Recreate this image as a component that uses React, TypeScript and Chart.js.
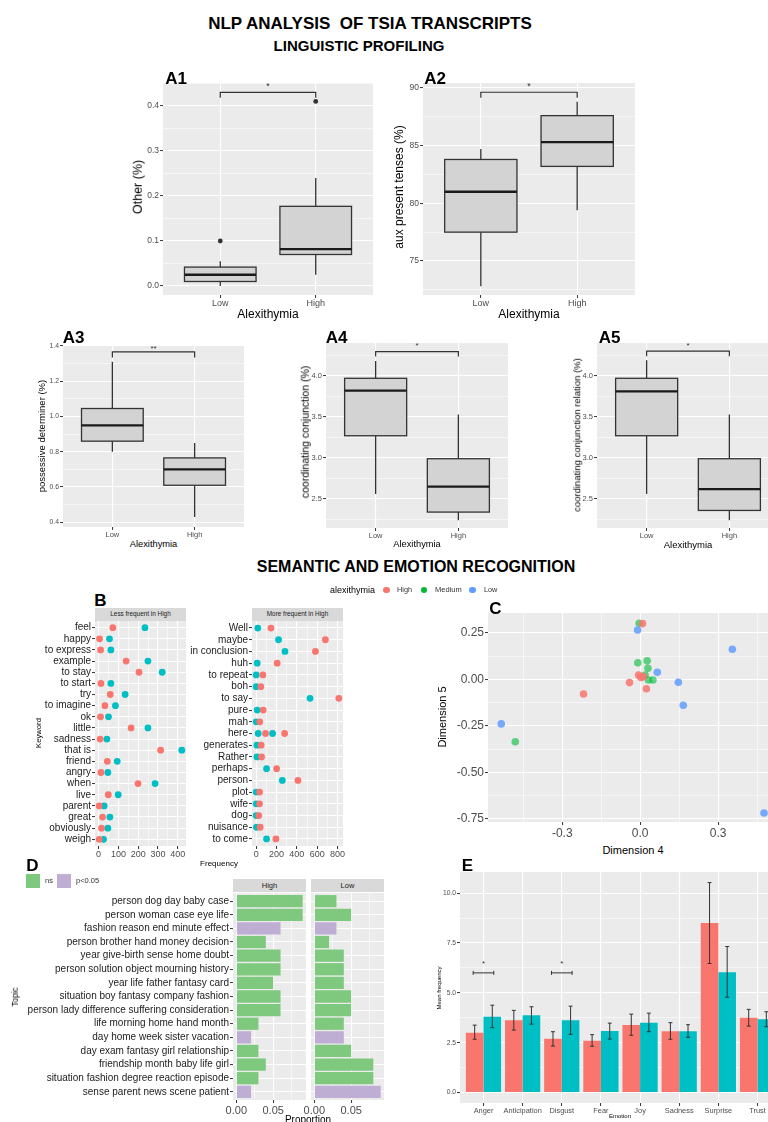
import React, { useEffect, useRef } from 'react';
import { Chart, registerables } from 'chart.js';

Chart.register(...registerables);

const FONT = "'Liberation Sans', Arial, Helvetica, sans-serif";
const RED = '#F8766D';
const TEAL = '#00BFC4';
const NS_GREEN = '#7FC97F';
const SIG_PURPLE = '#BEAED4';
const PANEL_BG = '#EBEBEB';

// ---------- A: linguistic profiling (whisker low, Q1, median, Q3, whisker high)
const GROUPS = ['Low', 'High'];
const A1_LOW = [0.0, 0.01, 0.025, 0.042, 0.055];
const A1_HIGH = [0.025, 0.07, 0.082, 0.177, 0.24];
const A1_OUT_LOW = [0.1];
const A1_OUT_HIGH = [0.41];
const A2_LOW = [72.8, 77.5, 81.0, 83.8, 84.7];
const A2_HIGH = [79.4, 83.2, 85.3, 87.6, 88.8];
const A3_LOW = [0.8, 0.86, 0.95, 1.045, 1.31];
const A3_HIGH = [0.43, 0.61, 0.7, 0.765, 0.85];
const A4_LOW = [2.56, 3.27, 3.82, 3.97, 4.18];
const A4_HIGH = [2.24, 2.34, 2.65, 2.99, 3.53];
const A5_LOW = [2.56, 3.27, 3.81, 3.97, 4.19];
const A5_HIGH = [2.24, 2.36, 2.62, 2.99, 3.53];
const A_SIG = ['*', '*', '**', '*', '*'];

// ---------- B: keywords
const B_LESS_KEYS = ['feel', 'happy', 'to express', 'example', 'to stay', 'to start', 'try', 'to imagine', 'ok', 'little', 'sadness', 'that is', 'friend', 'angry', 'when', 'live', 'parent', 'great', 'obviously', 'weigh'];
const B_LESS_HIGH = [72, 5, 10, 139, 204, 12, 59, 32, 10, 164, 8, 313, 44, 12, 199, 49, 3, 20, 15, 3];
const B_LESS_LOW = [234, 55, 62, 249, 321, 62, 134, 85, 50, 249, 42, 420, 94, 47, 285, 99, 28, 57, 47, 25];
const B_MORE_KEYS = ['Well', 'maybe', 'in conclusion', 'huh', 'to repeat', 'boh', 'to say', 'pure', 'mah', 'here', 'here', 'generates', 'Rather', 'perhaps', 'person', 'plot', 'wife', 'dog', 'nuisance', 'to come'];
const B_MORE_HIGH = [145, 681, 583, 207, 66, 46, 813, 69, 36, 92, 280, 49, 53, 201, 411, 33, 33, 26, 39, 194];
const B_MORE_LOW = [16, 220, 283, 10, 0, 0, 530, 10, 0, 20, 161, 7, 7, 102, 257, 0, 0, 0, 3, 102];

// ---------- C: dimensions
const C_HIGH_X = [0.009, -0.006, 0.003, 0.012, -0.041, 0.024, -0.218];
const C_HIGH_Y = [0.3, 0.024, 0.01, 0.015, -0.017, -0.05, -0.078];
const C_MED_X = [-0.004, -0.009, 0.027, 0.03, 0.019, 0.032, 0.049, -0.481];
const C_MED_Y = [0.302, 0.09, 0.1, 0.06, 0.024, -0.003, -0.003, -0.335];
const C_LOW_X = [-0.01, 0.066, 0.147, 0.166, 0.355, -0.535, 0.477];
const C_LOW_Y = [0.266, 0.039, -0.015, -0.139, 0.162, -0.239, -0.718];

// ---------- D: topics
const D_TOPICS = [
  'person dog day baby case',
  'person woman case eye life',
  'fashion reason end minute effect',
  'person brother hand money decision',
  'year give-birth sense home doubt',
  'person solution object mourning history',
  'year life father fantasy card',
  'situation boy fantasy company fashion',
  'person lady difference suffering consideration',
  'life morning home hand month',
  'day home week sister vacation',
  'day exam fantasy girl relationship',
  'friendship month baby life girl',
  'situation fashion degree reaction episode',
  'sense parent news scene patient',
];
const D_HIGH = [0.09, 0.09, 0.06, 0.04, 0.06, 0.06, 0.05, 0.06, 0.06, 0.03, 0.02, 0.03, 0.04, 0.03, 0.02];
const D_LOW = [0.03, 0.05, 0.03, 0.02, 0.04, 0.04, 0.04, 0.05, 0.05, 0.04, 0.04, 0.05, 0.08, 0.08, 0.09];
const D_SIG = ['ns', 'ns', 'p<0.05', 'ns', 'ns', 'ns', 'ns', 'ns', 'ns', 'ns', 'p<0.05', 'ns', 'ns', 'ns', 'p<0.05'];

// ---------- E: emotions
const E_EMOTIONS = ['Anger', 'Anticipation', 'Disgust', 'Fear', 'Joy', 'Sadness', 'Surprise', 'Trust'];
const E_HIGH = [3.0, 3.62, 2.7, 2.6, 3.38, 3.07, 8.5, 3.75];
const E_HIGH_LO = [2.67, 3.13, 2.33, 2.32, 2.87, 2.67, 6.47, 3.33];
const E_HIGH_HI = [3.38, 4.12, 3.05, 2.9, 3.93, 3.5, 10.53, 4.17];
const E_LOW = [3.8, 3.87, 3.62, 3.08, 3.5, 3.07, 6.03, 3.67];
const E_LOW_LO = [3.25, 3.43, 2.92, 2.68, 3.05, 2.77, 4.78, 3.3];
const E_LOW_HI = [4.38, 4.3, 4.33, 3.48, 3.98, 3.4, 7.32, 4.05];
const E_SIG = ['Anger', 'Disgust'];

type M = { l: number; r: number; t: number; b: number };
type R = { x: number; y: number; w: number; h: number };

const near = (a: number, b: number) => Math.abs(a - b) < 1e-7;

function linScale(o: {
  pos: 'left' | 'bottom'; min: number; max: number; majors: number[]; minors?: number[];
  label?: (v: number) => string; size: number; thick: number; reverse?: boolean; pad?: number;
  color?: string; hide?: boolean; tickLen?: number;
}) {
  const majors = o.majors;
  const minors = o.minors || [];
  const isMajor = (v: any) => typeof v === 'number' && majors.some((m) => near(m, v));
  return {
    type: 'linear',
    position: o.pos,
    min: o.min,
    max: o.max,
    reverse: !!o.reverse,
    offset: false,
    afterBuildTicks: (s: any) => {
      s.ticks = [...majors, ...minors].sort((a, b) => a - b).map((v) => ({ value: v }));
    },
    afterFit: (s: any) => {
      if (o.pos === 'bottom') s.height = o.thick; else s.width = o.thick;
      s.paddingLeft = 0; s.paddingRight = 0; s.paddingTop = 0; s.paddingBottom = 0;
    },
    ticks: {
      autoSkip: false, maxRotation: 0, minRotation: 0, padding: o.pad ?? 1,
      color: o.color || '#4D4D4D',
      font: { family: FONT, size: o.size },
      callback: (v: any) => (o.hide || !isMajor(v) ? '' : o.label ? o.label(v) : String(v)),
    },
    grid: {
      offset: false,
      color: '#FFFFFF',
      lineWidth: (c: any) => (isMajor(c?.tick?.value) ? 1.1 : 0.55),
      tickColor: (c: any) => (!o.hide && isMajor(c?.tick?.value) ? '#333333' : 'rgba(0,0,0,0)'),
      tickLength: o.tickLen ?? 3,
      tickWidth: 1,
      drawTicks: true,
    },
    border: { display: false },
  };
}

function baseOptions(m: M, scales: any, extra: any = {}) {
  return {
    responsive: false,
    maintainAspectRatio: false,
    animation: false,
    devicePixelRatio: 1,
    events: [],
    layout: { autoPadding: false, padding: { left: 0, right: m.r, top: m.t, bottom: 0 } },
    plugins: { legend: { display: false }, tooltip: { enabled: false }, title: { display: false } },
    scales,
    ...extra,
  };
}

const bgPlugin = {
  id: 'panelBg',
  beforeDraw(chart: any) {
    const { ctx, chartArea } = chart;
    if (!chartArea) return;
    ctx.save();
    ctx.fillStyle = PANEL_BG;
    ctx.fillRect(chartArea.left, chartArea.top, chartArea.right - chartArea.left, chartArea.bottom - chartArea.top);
    ctx.restore();
  },
};

function makeBoxPlugin(stats: number[][], br: { y: number; tick: number; star: number; label: string; size: number }) {
  return {
    id: 'boxes',
    beforeDatasetsDraw(chart: any) {
      const { ctx } = chart;
      const xs = chart.scales.x;
      const ys = chart.scales.y;
      const py = (v: number) => ys.getPixelForValue(v);
      ctx.save();
      stats.forEach(([lo, q1, med, q3, hi], i) => {
        const xc = xs.getPixelForValue(i);
        const hw = Math.abs(xs.getPixelForValue(i + 0.375) - xc);
        ctx.strokeStyle = '#333333';
        ctx.lineWidth = 1.3;
        ctx.beginPath();
        ctx.moveTo(xc, py(hi)); ctx.lineTo(xc, py(q3));
        ctx.moveTo(xc, py(q1)); ctx.lineTo(xc, py(lo));
        ctx.stroke();
        ctx.fillStyle = '#D3D3D3';
        ctx.fillRect(xc - hw, py(q3), 2 * hw, py(q1) - py(q3));
        ctx.strokeRect(xc - hw, py(q3), 2 * hw, py(q1) - py(q3));
        ctx.strokeStyle = '#1A1A1A';
        ctx.lineWidth = 2.3;
        ctx.beginPath();
        ctx.moveTo(xc - hw, py(med)); ctx.lineTo(xc + hw, py(med));
        ctx.stroke();
      });
      const x0 = xs.getPixelForValue(0);
      const x1 = xs.getPixelForValue(1);
      ctx.strokeStyle = '#333333';
      ctx.lineWidth = 1.2;
      ctx.beginPath();
      ctx.moveTo(x0, py(br.tick)); ctx.lineTo(x0, py(br.y)); ctx.lineTo(x1, py(br.y)); ctx.lineTo(x1, py(br.tick));
      ctx.stroke();
      ctx.fillStyle = '#333333';
      ctx.font = `${br.size}px ${FONT}`;
      ctx.textAlign = 'center';
      ctx.textBaseline = 'middle';
      ctx.fillText(br.label, (x0 + x1) / 2, py(br.star) + br.size * 0.25);
      ctx.restore();
    },
  };
}

function boxConfig(o: {
  m: M; low: number[]; high: number[]; outLow?: number[]; outHigh?: number[];
  yMin: number; yMax: number; majors: number[]; minors: number[]; fmt: (v: number) => string;
  ySize: number; xSize: number; br: { y: number; tick: number; star: number; label: string; size: number };
}) {
  const outs = [
    ...(o.outLow || []).map((v) => ({ x: 0, y: v })),
    ...(o.outHigh || []).map((v) => ({ x: 1, y: v })),
  ];
  return {
    type: 'scatter',
    data: { datasets: [{ data: outs, backgroundColor: '#333333', pointRadius: 2.4, borderWidth: 0 }] },
    options: baseOptions(o.m, {
      x: linScale({ pos: 'bottom', min: -0.6, max: 1.6, majors: [0, 1], size: o.xSize, thick: o.m.b, label: (v) => GROUPS[Math.round(v)], pad: 0 }),
      y: linScale({ pos: 'left', min: o.yMin, max: o.yMax, majors: o.majors, minors: o.minors, size: o.ySize, thick: o.m.l, label: o.fmt }),
    }),
    plugins: [bgPlugin, makeBoxPlugin([o.low, o.high], o.br)],
  };
}

function bConfig(m: M, keys: string[], high: number[], low: number[], xr: [number, number], majors: number[], minors: number[]) {
  const rows = keys.filter((k, i) => keys.indexOf(k) === i);
  const idx = (k: string) => rows.indexOf(k);
  return {
    type: 'scatter',
    data: {
      datasets: [
        { data: keys.map((k, i) => ({ x: high[i], y: idx(k) })), backgroundColor: RED, pointRadius: 3.4, borderWidth: 0 },
        { data: keys.map((k, i) => ({ x: low[i], y: idx(k) })), backgroundColor: TEAL, pointRadius: 3.4, borderWidth: 0 },
      ],
    },
    options: baseOptions(m, {
      x: linScale({ pos: 'bottom', min: xr[0], max: xr[1], majors, minors, size: 9, thick: m.b, pad: 0 }),
      y: linScale({ pos: 'left', min: -0.6, max: rows.length - 0.4, majors: rows.map((_, i) => i), size: 10, thick: m.l, reverse: true, color: '#222222', label: (v) => rows[Math.round(v)] }),
    }),
    plugins: [bgPlugin],
  };
}

function cConfig(m: M) {
  const pts = (xs: number[], ys: number[]) => xs.map((x, i) => ({ x, y: ys[i] }));
  return {
    type: 'scatter',
    data: {
      datasets: [
        { data: pts(C_HIGH_X, C_HIGH_Y), backgroundColor: 'rgba(248,118,109,0.85)', pointRadius: 3.8, borderWidth: 0 },
        { data: pts(C_LOW_X, C_LOW_Y), backgroundColor: 'rgba(97,156,255,0.85)', pointRadius: 3.8, borderWidth: 0 },
        { data: pts(C_MED_X, C_MED_Y), backgroundColor: 'rgba(0,186,56,0.6)', pointRadius: 3.8, borderWidth: 0 },
      ],
    },
    options: baseOptions(m, {
      x: linScale({ pos: 'bottom', min: -0.586, max: 0.527, majors: [-0.3, 0, 0.3], minors: [-0.45, -0.15, 0.15, 0.45], size: 12, thick: m.b, label: (v) => v.toFixed(1), pad: 1 }),
      y: linScale({ pos: 'left', min: -0.766, max: 0.357, majors: [-0.75, -0.5, -0.25, 0, 0.25], minors: [-0.625, -0.375, -0.125, 0.125], size: 12, thick: m.l, label: (v) => v.toFixed(2) }),
    }),
    plugins: [bgPlugin],
  };
}

function dConfig(m: M, values: number[], showLabels: boolean) {
  return {
    type: 'bar',
    data: {
      datasets: [{
        data: values.map((v, i) => ({ x: v, y: i })),
        backgroundColor: D_SIG.map((s) => (s === 'ns' ? NS_GREEN : SIG_PURPLE)),
        borderWidth: 0,
        categoryPercentage: 0.9,
        barPercentage: 1.0,
      }],
    },
    options: baseOptions(m, {
      x: linScale({ pos: 'bottom', min: -0.0045, max: 0.0945, majors: [0, 0.05], minors: [0.025, 0.075], size: 11, thick: m.b, label: (v) => v.toFixed(2), pad: 1 }),
      y: linScale({ pos: 'left', min: -0.6, max: D_TOPICS.length - 0.4, majors: D_TOPICS.map((_, i) => i), size: 10, thick: m.l, reverse: true, color: '#222222', hide: !showLabels, label: (v) => D_TOPICS[Math.round(v)] }),
    }, { indexAxis: 'y' }),
    plugins: [bgPlugin],
  };
}

const errPlugin = {
  id: 'errbars',
  afterDatasetsDraw(chart: any) {
    const { ctx } = chart;
    const xs = chart.scales.x;
    const ys = chart.scales.y;
    const cap = Math.abs(xs.getPixelForValue(0.05) - xs.getPixelForValue(0));
    ctx.save();
    ctx.strokeStyle = '#333333';
    ctx.lineWidth = 1;
    [[E_HIGH_LO, E_HIGH_HI], [E_LOW_LO, E_LOW_HI]].forEach(([lo, hi], di) => {
      const meta = chart.getDatasetMeta(di);
      meta.data.forEach((bar: any, j: number) => {
        const x = bar.x;
        const y0 = ys.getPixelForValue(lo[j]);
        const y1 = ys.getPixelForValue(hi[j]);
        ctx.beginPath();
        ctx.moveTo(x, y0); ctx.lineTo(x, y1);
        ctx.moveTo(x - cap, y0); ctx.lineTo(x + cap, y0);
        ctx.moveTo(x - cap, y1); ctx.lineTo(x + cap, y1);
        ctx.stroke();
      });
    });
    const m0 = chart.getDatasetMeta(0);
    const m1 = chart.getDatasetMeta(1);
    E_SIG.forEach((name) => {
      const j = E_EMOTIONS.indexOf(name);
      const xa = m0.data[j].x - 1.5;
      const xb = m1.data[j].x + 1.5;
      const y = ys.getPixelForValue(6.0);
      ctx.beginPath();
      ctx.moveTo(xa, y); ctx.lineTo(xb, y);
      ctx.moveTo(xa, y - 2); ctx.lineTo(xa, y + 2);
      ctx.moveTo(xb, y - 2); ctx.lineTo(xb, y + 2);
      ctx.stroke();
      ctx.fillStyle = '#333333';
      ctx.font = `8px ${FONT}`;
      ctx.textAlign = 'center';
      ctx.textBaseline = 'middle';
      ctx.fillText('*', (xa + xb) / 2, ys.getPixelForValue(6.55) + 2);
    });
    ctx.restore();
  },
};

function eConfig(m: M) {
  return {
    type: 'bar',
    data: {
      datasets: [
        { data: E_HIGH.map((v, i) => ({ x: i, y: v })), backgroundColor: RED, borderWidth: 0, categoryPercentage: 0.9, barPercentage: 1.0 },
        { data: E_LOW.map((v, i) => ({ x: i, y: v })), backgroundColor: TEAL, borderWidth: 0, categoryPercentage: 0.9, barPercentage: 1.0 },
      ],
    },
    options: baseOptions(m, {
      x: linScale({ pos: 'bottom', min: -0.6, max: E_EMOTIONS.length - 0.4, majors: E_EMOTIONS.map((_, i) => i), size: 7.4, thick: m.b, label: (v) => E_EMOTIONS[Math.round(v)], pad: 1 }),
      y: linScale({ pos: 'left', min: -0.527, max: 11.06, majors: [0, 2.5, 5, 7.5, 10], minors: [1.25, 3.75, 6.25, 8.75], size: 6.7, thick: m.l, label: (v) => v.toFixed(1) }),
    }),
    plugins: [bgPlugin, errPlugin],
  };
}

function ChartCanvas({ plot, m, make }: { plot: R; m: M; make: () => any }) {
  const ref = useRef<HTMLCanvasElement | null>(null);
  const w = plot.w + m.l + m.r;
  const h = plot.h + m.t + m.b;
  useEffect(() => {
    if (!ref.current) return;
    const chart = new Chart(ref.current, make());
    return () => chart.destroy();
  }, []);
  return (
    <canvas ref={ref} width={w} height={h}
      style={{ position: 'absolute', left: plot.x - m.l, top: plot.y - m.t, width: w, height: h, display: 'block' }} />
  );
}

const T = ({ x, y, s, size, bold, rot, color, left }: any) => (
  <div style={{
    position: 'absolute', left: x, top: y,
    transform: `translate(${left ? '0' : '-50%'},-50%)${rot ? ' rotate(-90deg)' : ''}`,
    fontSize: size, fontWeight: bold ? 700 : 400, color: color || '#000', whiteSpace: 'pre',
    lineHeight: 1, fontFamily: FONT,
  }}>{s}</div>
);

const Strip = ({ x, y, w, h, s, size }: any) => (
  <div style={{
    position: 'absolute', left: x, top: y, width: w, height: h, background: '#D9D9D9',
    display: 'flex', alignItems: 'center', justifyContent: 'center', fontSize: size,
    color: '#1A1A1A', fontFamily: FONT, whiteSpace: 'nowrap', lineHeight: 1,
  }}>{s}</div>
);

const Dot = ({ x, y, r, c }: any) => (
  <div style={{ position: 'absolute', left: x - r, top: y - r, width: 2 * r, height: 2 * r, borderRadius: '50%', background: c }} />
);

const Sq = ({ x, y, w, c }: any) => (
  <div style={{ position: 'absolute', left: x, top: y, width: w, height: w, background: c }} />
);

export default function App() {
  const mA12: M = { l: 28, r: 3, t: 2, b: 14 };
  const mA345: M = { l: 22, r: 3, t: 2, b: 12 };
  const aMin = [0.4, 0.6, 0.8, 1.0, 1.2, 1.4];
  return (
    <div style={{ position: 'absolute', left: 0, top: 0, width: 768, height: 1122, overflow: 'hidden', background: '#FFFFFF', fontFamily: FONT }}>
      {/* A1 */}
      <ChartCanvas plot={{ x: 163, y: 83, w: 210, h: 212 }} m={mA12} make={() => boxConfig({
        m: mA12, low: A1_LOW, high: A1_HIGH, outLow: A1_OUT_LOW, outHigh: A1_OUT_HIGH,
        yMin: -0.02, yMax: 0.451, majors: [0, 0.1, 0.2, 0.3, 0.4], minors: [0.05, 0.15, 0.25, 0.35, 0.45],
        fmt: (v) => v.toFixed(1), ySize: 8.5, xSize: 9, br: { y: 0.43, tick: 0.418, star: 0.449, label: A_SIG[0], size: 9 },
      })} />
      {/* A2 */}
      <ChartCanvas plot={{ x: 423, y: 83, w: 212, h: 212 }} m={mA12} make={() => boxConfig({
        m: mA12, low: A2_LOW, high: A2_HIGH,
        yMin: 72.05, yMax: 90.43, majors: [75, 80, 85, 90], minors: [72.5, 77.5, 82.5, 87.5],
        fmt: (v) => String(v), ySize: 8.5, xSize: 9, br: { y: 89.63, tick: 89.16, star: 90.35, label: A_SIG[1], size: 9 },
      })} />
      {/* A3 */}
      <ChartCanvas plot={{ x: 63, y: 345, w: 181, h: 182 }} m={mA345} make={() => boxConfig({
        m: mA345, low: A3_LOW, high: A3_HIGH,
        yMin: 0.3735, yMax: 1.405, majors: aMin, minors: [0.5, 0.7, 0.9, 1.1, 1.3],
        fmt: (v) => v.toFixed(1), ySize: 6.8, xSize: 7.5, br: { y: 1.366, tick: 1.334, star: 1.395, label: A_SIG[2], size: 8 },
      })} />
      {/* A4 */}
      <ChartCanvas plot={{ x: 326, y: 343, w: 182, h: 185 }} m={mA345} make={() => boxConfig({
        m: mA345, low: A4_LOW, high: A4_HIGH,
        yMin: 2.146, yMax: 4.4, majors: [2.5, 3.0, 3.5, 4.0], minors: [2.25, 2.75, 3.25, 3.75, 4.25],
        fmt: (v) => v.toFixed(1), ySize: 7.5, xSize: 7.5, br: { y: 4.296, tick: 4.235, star: 4.385, label: A_SIG[3], size: 8 },
      })} />
      {/* A5 */}
      <ChartCanvas plot={{ x: 597, y: 343, w: 182, h: 185 }} m={mA345} make={() => boxConfig({
        m: mA345, low: A5_LOW, high: A5_HIGH,
        yMin: 2.146, yMax: 4.4, majors: [2.5, 3.0, 3.5, 4.0], minors: [2.25, 2.75, 3.25, 3.75, 4.25],
        fmt: (v) => v.toFixed(1), ySize: 7.5, xSize: 7.5, br: { y: 4.3, tick: 4.24, star: 4.39, label: A_SIG[4], size: 8 },
      })} />

      {/* B */}
      <ChartCanvas plot={{ x: 95, y: 621, w: 91, h: 225 }} m={{ l: 80, r: 5, t: 2, b: 14 }} make={() => bConfig(
        { l: 80, r: 5, t: 2, b: 14 }, B_LESS_KEYS, B_LESS_HIGH, B_LESS_LOW, [-18, 441], [0, 100, 200, 300, 400], [50, 150, 250, 350])} />
      <ChartCanvas plot={{ x: 252, y: 621, w: 91, h: 225 }} m={{ l: 70, r: 6, t: 2, b: 14 }} make={() => bConfig(
        { l: 70, r: 6, t: 2, b: 14 }, B_MORE_KEYS, B_MORE_HIGH, B_MORE_LOW, [-41, 854], [0, 200, 400, 600, 800], [100, 300, 500, 700])} />

      {/* C */}
      <ChartCanvas plot={{ x: 488, y: 613, w: 289, h: 209 }} m={{ l: 45, r: 3, t: 2, b: 18 }} make={() => cConfig({ l: 45, r: 3, t: 2, b: 18 })} />

      {/* D */}
      <ChartCanvas plot={{ x: 233, y: 893, w: 73, h: 207 }} m={{ l: 215, r: 2, t: 2, b: 16 }} make={() => dConfig({ l: 215, r: 2, t: 2, b: 16 }, D_HIGH, true)} />
      <ChartCanvas plot={{ x: 311, y: 893, w: 73, h: 207 }} m={{ l: 16, r: 14, t: 2, b: 16 }} make={() => dConfig({ l: 16, r: 14, t: 2, b: 16 }, D_LOW, false)} />

      {/* E */}
      <ChartCanvas plot={{ x: 460, y: 872, w: 321, h: 231 }} m={{ l: 20, r: 2, t: 2, b: 14 }} make={() => eConfig({ l: 20, r: 2, t: 2, b: 14 })} />

      {/* Titles */}
      <T x={370} y={23} s={'NLP ANALYSIS  OF TSIA TRANSCRIPTS'} size={17} bold />
      <T x={359} y={45} s={'LINGUISTIC PROFILING'} size={15} bold />
      <T x={416} y={567} s={'SEMANTIC AND EMOTION RECOGNITION'} size={16} bold />

      {/* Panel letters */}
      <T x={176} y={77.5} s="A1" size={17} bold />
      <T x={435} y={77.5} s="A2" size={17} bold />
      <T x={73.5} y={336.5} s="A3" size={17} bold />
      <T x={336.5} y={336.5} s="A4" size={17} bold />
      <T x={609.5} y={336.5} s="A5" size={17} bold />
      <T x={100.5} y={600} s="B" size={17} bold />
      <T x={495.5} y={607.5} s="C" size={17} bold />
      <T x={32.5} y={865} s="D" size={17} bold />
      <T x={467.5} y={865} s="E" size={17} bold />

      {/* A axis titles */}
      <T x={138} y={187} s="Other (%)" size={12.5} rot />
      <T x={268} y={314} s="Alexithymia" size={12} />
      <T x={399} y={187} s="aux present tenses (%)" size={12} rot />
      <T x={529} y={314} s="Alexithymia" size={12} />
      <T x={42} y={436} s="possessive determiner (%)" size={9.5} rot />
      <T x={153.5} y={545} s="Alexithymia" size={9.3} />
      <T x={305} y={432} s="coordinating conjunction (%)" size={10.5} rot />
      <T x={417} y={545} s="Alexithymia" size={9.3} />
      <T x={577} y={435} s="coordinating conjunction relation (%)" size={9.5} rot />
      <T x={688} y={545} s="Alexithymia" size={9.5} />

      {/* Legend alexithymia */}
      <T x={330} y={590} s="alexithymia" size={9} left />
      <Dot x={386.7} y={590} r={3.4} c={RED} />
      <T x={397} y={590} s="High" size={7.3} left color="#333" />
      <Dot x={424} y={590} r={3.4} c="#00BA38" />
      <T x={435} y={590} s="Medium" size={7.5} left color="#333" />
      <Dot x={472.3} y={590} r={3.4} c="#619CFF" />
      <T x={484} y={590} s="Low" size={7.3} left color="#333" />

      {/* B strips and titles */}
      <Strip x={95} y={608} w={91} h={13} s="Less frequent in High" size={6.4} />
      <Strip x={252} y={608} w={91} h={13} s="More frequent in High" size={6.4} />
      <T x={39} y={733} s="Keyword" size={7.7} rot />
      <T x={219} y={864} s="Frequency" size={8} />

      {/* C titles */}
      <T x={442} y={717} s="Dimension 5" size={11} rot />
      <T x={633} y={850} s="Dimension 4" size={11} />

      {/* D legend, strips, titles */}
      <Sq x={26} y={874} w={14} c={NS_GREEN} />
      <T x={45} y={881} s="ns" size={7.5} left color="#333" />
      <Sq x={57} y={874} w={14} c={SIG_PURPLE} />
      <T x={76} y={881} s="p<0.05" size={7.5} left color="#333" />
      <Strip x={233} y={879} w={73} h={13} s="High" size={7.5} />
      <Strip x={311} y={879} w={73} h={13} s="Low" size={7.5} />
      <T x={16} y={997} s="Topic" size={8.2} rot />
      <T x={308} y={1120} s="Proportion" size={10} />

      {/* E titles */}
      <T x={439} y={988} s="Mean frequency" size={6} rot />
      <T x={620} y={1116} s="Emotion" size={6} />
    </div>
  );
}
